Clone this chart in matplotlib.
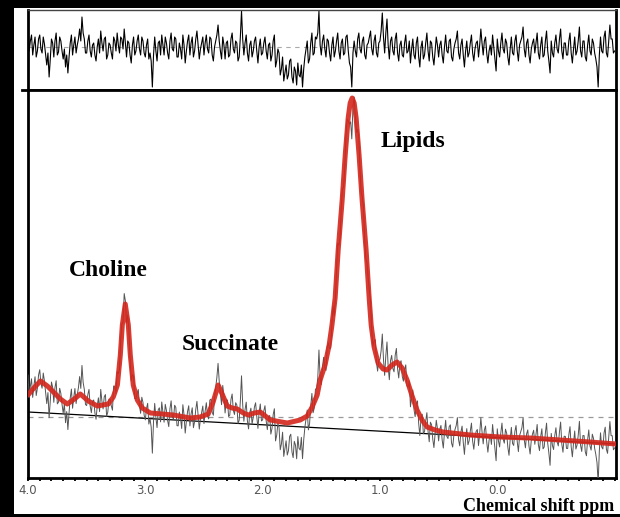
import matplotlib
matplotlib.use('Agg')
import matplotlib.pyplot as plt
import numpy as np
from matplotlib.patches import Rectangle
from matplotlib.lines import Line2D

# fitted curve (ppm, intensity in arbitrary units)
fit_ppm = [4.00, 3.950, 3.894, 3.835, 3.783, 3.724, 3.665, 3.605, 3.554, 3.486,
           3.409, 3.315, 3.273, 3.238, 3.213, 3.196, 3.171, 3.145, 3.128, 3.103,
           3.068, 3.026, 2.957, 2.762, 2.617, 2.532, 2.464, 2.422, 2.379, 2.345,
           2.302, 2.260, 2.216, 2.165, 2.122, 2.071, 2.020, 1.977, 1.935, 1.790,
           1.680, 1.620, 1.578, 1.535, 1.510, 1.468, 1.433, 1.409, 1.382, 1.356,
           1.322, 1.296, 1.271, 1.254, 1.237, 1.220, 1.203, 1.178, 1.152, 1.118,
           1.092, 1.075, 1.050, 1.016, 0.973, 0.939, 0.897, 0.854, 0.811, 0.769,
           0.726, 0.684, 0.641, 0.598, 0.530, 0.462, 0.232, -0.024, -0.279, -0.535,
           -0.790, -1.012]
fit_int = [83, 90, 97, 92, 86, 79, 74, 79, 84, 77,
           72, 74, 81, 93, 123, 153, 174, 153, 123, 93,
           78, 70, 65, 63, 60, 61, 64, 76, 93, 84,
           72, 70, 69, 65, 63, 65, 66, 62, 58, 55,
           58, 62, 71, 83, 98, 113, 133, 153, 180, 228,
           278, 323, 360, 375, 380, 375, 360, 323, 278, 228,
           180, 153, 131, 115, 109, 108, 113, 116, 110, 98,
           82, 68, 58, 51, 48, 46, 43, 41, 40, 38,
           36, 34]

# residual (data - fit), one value every 0.01 ppm from 4.00 down to -1.00
resid = [
    20, -4, 6, 12, -8, 2, 10, -10, -4, 8, 12, -2, -6, 10, 3, -8, -18, -6, -30, -12, 8, 4, -10, 6, 14,
    -8, -5, 10, 6, -4, -12, -2, -20, -8, -26, -10, 4, 12, -8, 2, 10, -6, 2, 8, 18, 6, 30, 14, 8, -6,
    -6, 6, 12, -4, -10, 2, 4, -8, -14, 0, 8, -6, 16, 4, -4, 8, 10, -12, -8, 4, 2, -6, -12, 10, 6,
    -4, 14, 2, -6, 10, 8, -2, 18, 4, -10, 6, 4, -8, -16, 2, 10, -8, -4, 6, 12, -2, -8, 10, 6, -6,
    -10, 2, 8, -12, -6, -14, -40, -8, 10, -4, -14, 4, 6, -8, 12, 2, -8, 10, 4, -6, -12, 6, 14, -2, -4,
    10, 8, -10, -10, 4, -2, -12, 12, 2, -16, -4, 6, 12, -8, 4, 10, -10, -4, 8, 16, 2, -12, -2, 4, 10,
    -8, 4, 12, -2, -6, 10, 8, -8, -14, 0, 6, 12, 22, 6, -4, -12, 10, 2, -12, 4, 6, -10, -8, 8, 14,
    -2, -6, 6, 4, -14, -10, 10, 36, 8, -8, 4, 12, -6, -14, 2, 6, -10, -4, 6, 10, -4, -16, 0, 8, -8,
    -6, 4, 10, -4, -12, 2, 4, -14, -8, 6, 12, -20, -14, -2, -6, -28, -22, -10, -34, -26, -18, -32, -28, -14, -12,
    -30, -36, -20, -24, -38, -16, -28, -30, -18, -40, -22, -10, -2, 6, -16, -12, 4, 14, -8, -6, 10, 8, 14, 36, 2,
    -8, 6, 12, -2, -10, 8, 6, -6, -14, 2, 10, -10, -4, 6, 14, -4, -12, 4, 8, -8, -6, 10, 12, -4, -16,
    -20, -40, -6, 6, -4, -10, 8, 14, -2, -6, 6, 10, -8, -12, 2, 4, 10, 16, -2, -8, 6, 12, -6, -10, 4,
    6, 16, 34, 10, -6, 14, 28, 2, -12, 6, 10, -4, -8, 8, 14, -6, -14, 2, 6, -8, -10, 4, 12, -6, -4,
    6, -16, -2, 8, -8, -12, 4, 10, -10, -20, 0, 6, -12, -8, 4, 14, -4, -14, 6, 4, -10, -18, -4, 10, 2,
    -10, 2, 6, -8, -16, 0, 12, -4, -6, 6, 8, -10, -14, -2, 4, 8, 16, -6, -12, 2, 8, -8, -20, -4, 6,
    -10, -6, 4, 12, -6, -14, -2, 4, 6, -10, 2, 18, 4, -8, 6, 10, -6, -16, -4, 2, -8, 12, 0, -12, -24,
    8, -4, -10, 4, 14, -2, -6, 8, 4, -10, -18, -2, 10, -6, -8, 6, 12, -4, -14, 2, 6, 10, 20, -2, -10,
    4, 8, -8, -16, -2, 4, 8, -6, 4, 14, -6, -12, 2, 10, -10, -8, 6, 16, -4, -14, -26, 6, -6, -10, 4,
    12, -2, -6, 8, 18, -4, -12, 4, 4, -8, -8, 6, 14, -6, -16, -2, 10, -8, -4, 6, 20, -4, -10, 6, 6,
    -10, -14, 2, 12, -4, -8, 8, 4, -6, -12, -20, -40, -8, 10, -4, -6, 10, 16, -6, -10, 6, 22, 8, 8, -6,
    -4]

base_ppm = [4.0, -1.012]
base_int = [66, 34]
ref_level = 61.5

peak_names = ['Choline', 'Succinate', 'Lipids']
peak_ppm = [3.315, 2.276, 0.717]
peak_int = [207, 134, 336]

tick_vals = [4.0, 3.0, 2.0, 1.0, 0.0]

ppm = 4.0 - 0.01 * np.arange(len(resid))
resid = np.array(resid, float)
fit_ppm = np.array(fit_ppm)
fit_int = np.array(fit_int, float)
spec = np.interp(ppm, fit_ppm[::-1], fit_int[::-1]) + resid

W, H = 620, 517
fig = plt.figure(figsize=(6.2, 5.17), dpi=100, facecolor='black')
fig.patches.append(Rectangle((14 / W, 1 - 514 / H), 606 / W, 506 / H,
                             transform=fig.transFigure, facecolor='white',
                             edgecolor='none', zorder=-10))


def px_axes(x0, y0, x1, y1):
    a = fig.add_axes([x0 / W, 1 - y1 / H, (x1 - x0) / W, (y1 - y0) / H])
    a.set_zorder(2)
    return a


ax_res = px_axes(28, 10, 616, 90)
ax = px_axes(28, 90, 616, 478)

#%% residual panel
ax_res.plot(ppm, resid, color='black', lw=0.8)
ax_res.axhline(0, color='#aaaaaa', lw=0.8, ls=(0, (4, 4)), zorder=0)
ax_res.set_xlim(4.0, -1.012)
ax_res.set_ylim(-43, 37)
ax_res.set_xticks([])
ax_res.set_yticks([])
for s in ['left', 'right', 'bottom']:
    ax_res.spines[s].set_linewidth(2)
ax_res.spines['top'].set_linewidth(1)
ax_res.spines['top'].set_color('#444444')

#%% main panel
ax.axhline(ref_level, color='#999999', lw=0.9, ls=(0, (4, 4)), zorder=1)
ax.plot(base_ppm, base_int, color='black', lw=0.9, zorder=2)
ax.plot(ppm, spec, color='#555555', lw=0.7, zorder=3)
ax.plot(fit_ppm, fit_int, color='#d3261c', lw=3.6, alpha=0.9, zorder=4,
        solid_joinstyle='round', solid_capstyle='round')

for name, x, y in zip(peak_names, peak_ppm, peak_int):
    ax.text(x, y, name, ha='center', va='center', fontsize=17,
            family='Liberation Serif', weight='bold', color='black')

ax.set_xlim(4.0, -1.012)
ax.set_ylim(0, 388)
ax.set_yticks([])
ax.set_xticks(tick_vals)
ax.set_xticklabels(['%.1f' % v for v in tick_vals])
ax.set_xticks(np.arange(-1.0, 4.05, 0.1), minor=True)
ax.tick_params(axis='x', which='both', direction='out', length=2.5, width=1.3,
               color='black', labelsize=8.5, labelcolor='#555555', pad=2)
for s in ax.spines.values():
    s.set_linewidth(2)

fig.add_artist(Line2D([22 / W, 28 / W], [1 - 90 / H, 1 - 90 / H],
                      transform=fig.transFigure, color='black', lw=2))
fig.text(614 / W, 1 - 511 / H, 'Chemical shift ppm', ha='right', va='baseline',
         fontsize=13, family='Liberation Serif', weight='bold', color='black')

fig.savefig('out.png', dpi=100, facecolor='black')
